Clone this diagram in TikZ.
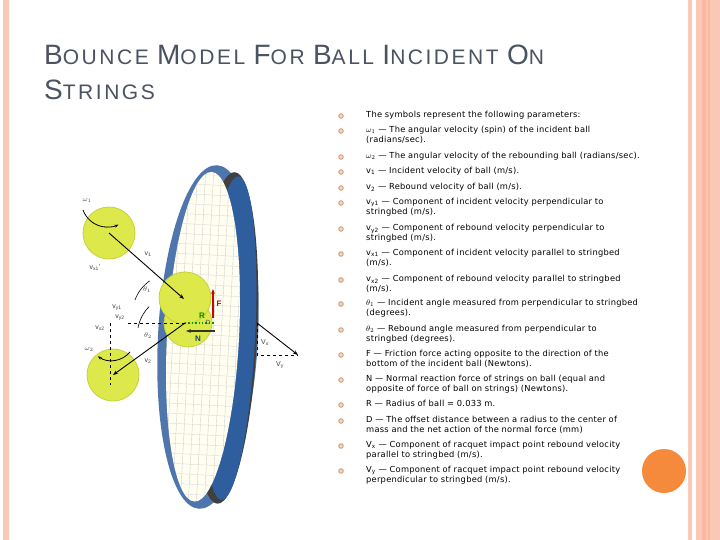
\documentclass[tikz,border=0pt]{standalone}
\usepackage{fontspec}
\setmainfont{Liberation Sans}
\newfontfamily\listfont[LetterSpace=3]{DejaVu Sans}
\newfontfamily\titlefont[LetterSpace=12]{Liberation Sans}
\usetikzlibrary{arrows.meta}
\definecolor{stripe}{HTML}{F9C9B6}
\definecolor{stripe2}{HTML}{FBB89E}
\definecolor{titlec}{HTML}{4B5262}
\definecolor{bul}{HTML}{D9A07A}
\definecolor{orng}{HTML}{F58A3C}
\definecolor{ballc}{HTML}{DDE84A}
\definecolor{balld}{HTML}{C5D23A}
\definecolor{rblue}{HTML}{2F5E9E}
\newcommand{\nohy}{\hyphenpenalty10000\exhyphenpenalty10000\relax}
\tikzset{
  item/.style={anchor=north west,text width=272pt,font=\listfont\fontsize{8.3}{9.8}\selectfont,execute at begin node={\nohy},inner sep=0pt,align=left},
  bulletdot/.style={circle,draw=bul,fill=bul!40,line width=1pt,minimum size=4.5pt,inner sep=0pt},
  lab/.style={font=\fontsize{7}{8}\selectfont,text=black!75,inner sep=0pt},
  tball/.style={fill=ballc,draw=balld,line width=0.8pt},
  varr/.style={-{Stealth[length=5pt]},line width=0.9pt},
  dsh/.style={dashed,line width=0.6pt}
}
\newcommand{\BL}{\fontsize{28}{30}\selectfont}
\newcommand{\SM}{\fontsize{21}{22}\selectfont}
\begin{document}
\begin{tikzpicture}[x=1pt,y=-1pt]
\useasboundingbox (0,0) rectangle (720,540);
\fill[white] (0,0) rectangle (720,540);
% stripes
\fill[stripe] (3,0) rectangle (9,540);
\fill[stripe] (688,0) rectangle (692,540);
\fill[stripe] (696,0) rectangle (720,540);
\fill[stripe2] (702,0) rectangle (706,540);
\fill[stripe2] (708,0) rectangle (710,540);
% title
\node[anchor=base west,text=titlec,inner sep=0pt,font=\titlefont] (t1) at (44,65) {\BL B\SM OUNCE \BL M\SM ODEL \BL F\SM OR \BL B\SM ALL \BL I\SM NCIDENT \BL O\SM N};
\node[anchor=base west,text=titlec,inner sep=0pt,font=\titlefont] (t2) at (44,100) {\BL S\SM TRINGS};
% list
\foreach \y/\t [count=\i] in {
 116/{The symbols represent the following parameters:},
 131/{$\omega_1$ — The angular velocity (spin) of the incident ball (radians/sec).},
 157/{$\omega_2$ — The angular velocity of the rebounding ball (radians/sec).},
 172/{v\textsubscript{1} — Incident velocity of ball (m/s).},
 188/{v\textsubscript{2} — Rebound velocity of ball (m/s).},
 203/{v\textsubscript{y1} — Component of incident velocity perpendicular to stringbed (m/s).},
 229/{v\textsubscript{y2} — Component of rebound velocity perpendicular to stringbed (m/s).},
 254/{v\textsubscript{x1} — Component of incident velocity parallel to stringbed (m/s).},
 280/{v\textsubscript{x2} — Component of rebound velocity parallel to stringbed (m/s).},
 304/{$\theta_1$ — Incident angle measured from perpendicular to stringbed (degrees).},
 330/{$\theta_2$ — Rebound angle measured from perpendicular to stringbed (degrees).},
 355/{F — Friction force acting opposite to the direction of the bottom of the incident ball (Newtons).},
 380/{N — Normal reaction force of strings on ball (equal and opposite of force of ball on strings) (Newtons).},
 405/{R — Radius of ball = 0.033 m.},
 421/{D — The offset distance between a radius to the center of mass and the net action of the normal force (mm)},
 446/{V\textsubscript{x} — Component of racquet impact point rebound velocity parallel to stringbed (m/s).},
 471/{V\textsubscript{y} — Component of racquet impact point rebound velocity perpendicular to stringbed (m/s).}}
{
 \node[bulletdot] (b\i) at (341,\y) {};
 \node[item] (i\i) at (366,\y-5) {\t};
}
\node[circle,fill=orng,minimum size=44pt,inner sep=0pt] (oc) at (664,471) {};
% racket
\begin{scope}[rotate around={-3:(208,337)}]
\fill[rblue!85] (208,337) ellipse (50 and 172);
\fill[black!75] (226,337) ellipse (31 and 166);
\fill[rblue] (230,337) ellipse (25 and 162);
\fill[white!94!yellow] (203,337) ellipse (36 and 165);
\begin{scope}
\clip (203,337) ellipse (36 and 165);
\foreach \k in {-30,-22,...,34}{\draw[black!18,line width=0.4pt] (203+\k,160) -- (203+\k,510);}
\foreach \k in {175,185,...,505}{\draw[black!14,line width=0.4pt] (160,\k) -- (245,\k);}
\end{scope}
\end{scope}
% balls
\node[circle,tball,minimum size=52pt] (ball1) at (109,233) {};
\node[circle,tball,minimum size=48pt] (ball2b) at (188,323) {};
\node[circle,tball,minimum size=52pt] (ball2) at (185,298) {};
\node[circle,tball,minimum size=52pt] (ball3) at (113,375) {};
\coordinate (c1) at (109,233);
\coordinate (c2) at (184,299);
\coordinate (c3) at (185,323);
\coordinate (c4) at (113,375);
\draw[varr] (c1) -- (c2);
\draw[varr] (c3) -- (c4);
\draw[-{Stealth[length=4pt]},line width=0.8pt] (83,210) arc[start angle=160,end angle=65,radius=26];
\draw[-{Stealth[length=4pt]},line width=0.8pt] (130,352) arc[start angle=40,end angle=125,radius=24];
\coordinate (h1) at (128,323);
\coordinate (v1e) at (110,385);
\coordinate (vtop) at (110,323);
\draw[dsh] (h1) -- (c3);
\draw[dsh] (vtop) -- (v1e);
\draw[line width=0.6pt] (135,300) arc[start angle=200,end angle=235,radius=40];
\draw[line width=0.6pt] (138,328) arc[start angle=190,end angle=225,radius=40];
\node[lab] (lw1) at (87,200) {$\omega_1$};
\node[lab] (lw2) at (89,349) {$\omega_2$};
\node[lab] (lv1) at (148,254) {v\textsubscript{1}};
\node[lab] (lvx1) at (95,268) {v\textsubscript{x1}'};
\node[lab] (lt1) at (147,290) {$\theta_1$};
\node[lab] (lvy1) at (117,308) {v\textsubscript{y1}};
\node[lab] (lvy2) at (120,318) {v\textsubscript{y2}};
\node[lab] (lvx2) at (100,328) {v\textsubscript{x2}};
\node[lab] (lt2) at (148,336) {$\theta_2$};
\node[lab] (lv2) at (148,361) {v\textsubscript{2}};
% forces
\coordinate (fa) at (213,318);
\coordinate (fb) at (213,289);
\draw[red!80!black,-{Stealth[length=5pt]},line width=1.4pt] (fa) -- (fb);
\node[lab,text=red!80!black,font=\bfseries\fontsize{8}{9}\selectfont] (lf) at (219,304) {F};
\coordinate (ra) at (185,323);
\coordinate (rb) at (215,323);
\draw[green!60!black,dotted,line width=1.4pt] (ra) -- (rb);
\node[lab,text=green!55!black,font=\bfseries\fontsize{8}{9}\selectfont] (lr) at (202,316) {R};
\node[lab,font=\fontsize{6}{7}\selectfont] (ld) at (208,322) {D};
\coordinate (na) at (215,331);
\coordinate (nb) at (186,331);
\draw[black!80,-{Stealth[length=5pt]},line width=1.2pt] (na) -- (nb);
\node[lab,text=rblue!70!black,font=\bfseries\fontsize{8}{9}\selectfont] (ln) at (198,339) {N};
% racket velocity
\coordinate (q1) at (257,323);
\coordinate (q2) at (298,355);
\coordinate (q3) at (257,355);
\draw[varr] (q1) -- (q2);
\draw[dsh] (q1) -- (q3) -- (q2);
\node[lab] (lvx) at (265,343) {V\textsubscript{x}};
\node[lab] (lvy) at (280,365) {V\textsubscript{y}};
\end{tikzpicture}
\end{document}
